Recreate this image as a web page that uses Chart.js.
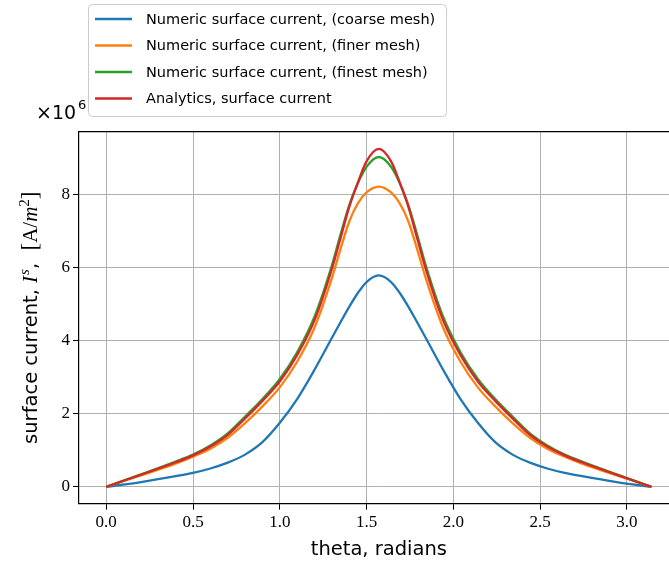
<!DOCTYPE html>
<html>
<head>
<meta charset="utf-8">
<script src="https://cdn.jsdelivr.net/npm/chart.js@4.4.1/dist/chart.umd.min.js"></script>
<style>
  html, body { margin: 0; padding: 0; background: #fff; overflow: hidden; }
  #wrap { width: 669px; height: 568px; overflow: hidden; }
</style>
</head>
<body>
<div id="wrap"><canvas id="chart" width="690" height="568"></canvas></div>
<script>
// theta samples (radians)
const theta = [0, 0.2, 0.4, 0.5, 0.6, 0.7, 0.8, 0.9, 1.0, 1.1, 1.2, 1.3, 1.35, 1.4, 1.45, 1.5, 1.5708,
  1.6416, 1.6916, 1.7416, 1.7916, 1.8416, 1.9416, 2.0416, 2.1416, 2.2416, 2.3416, 2.4416, 2.5416, 2.6416, 2.7416, 2.9416, 3.1416];

// surface current, units of 1e6 A/m^2
const coarse = [0, 0.13, 0.29, 0.38, 0.50, 0.66, 0.88, 1.22, 1.75, 2.40, 3.20, 4.07, 4.50, 4.92, 5.30, 5.60, 5.78,
  5.60, 5.30, 4.92, 4.50, 4.07, 3.20, 2.40, 1.75, 1.22, 0.88, 0.66, 0.50, 0.38, 0.29, 0.13, 0];
const finer = [0, 0.31, 0.63, 0.82, 1.04, 1.34, 1.74, 2.20, 2.72, 3.42, 4.35, 5.70, 6.50, 7.25, 7.75, 8.05, 8.21,
  8.05, 7.75, 7.25, 6.50, 5.70, 4.35, 3.42, 2.72, 2.20, 1.74, 1.34, 1.04, 0.82, 0.63, 0.31, 0];
const finest = [0, 0.34, 0.69, 0.88, 1.13, 1.46, 1.92, 2.40, 2.95, 3.68, 4.65, 6.05, 6.90, 7.70, 8.30, 8.75, 9.02,
  8.75, 8.30, 7.70, 6.90, 6.05, 4.65, 3.68, 2.95, 2.40, 1.92, 1.46, 1.13, 0.88, 0.69, 0.34, 0];
const analytic = [0, 0.33, 0.67, 0.86, 1.10, 1.42, 1.87, 2.35, 2.88, 3.60, 4.55, 5.95, 6.80, 7.65, 8.32, 8.90, 9.24,
  8.90, 8.32, 7.65, 6.80, 5.95, 4.55, 3.60, 2.88, 2.35, 1.87, 1.42, 1.10, 0.86, 0.67, 0.33, 0];

const seriesLabels = [
  "Numeric surface current, (coarse mesh)",
  "Numeric surface current, (finer mesh)",
  "Numeric surface current, (finest mesh)",
  "Analytics, surface current",
];
const seriesColors = ["#1f77b4", "#ff7f0e", "#2ca02c", "#d62728"];
const xTicks = [0, 0.5, 1.0, 1.5, 2.0, 2.5, 3.0];
const yTicks = [0, 2, 4, 6, 8];

const toPoints = (ys) => ys.map((y, i) => ({ x: theta[i], y }));
const allSeries = [coarse, finer, finest, analytic];

const tickFont = { family: "'Liberation Serif', serif", size: 17 };
const SANS = "'DejaVu Sans', sans-serif";
const SERIF = "'Liberation Serif', serif";

// frame, legend, axis titles, offset text
const decorations = {
  id: "decorations",
  afterDraw(chart) {
    const { ctx, chartArea: a } = chart;
    ctx.save();
    // top / right spines
    ctx.strokeStyle = "#000";
    ctx.lineWidth = 1.2;
    ctx.beginPath();
    ctx.moveTo(a.left, a.top);
    ctx.lineTo(a.right, a.top);
    ctx.moveTo(a.right, a.top);
    ctx.lineTo(a.right, a.bottom);
    ctx.stroke();

    // x title
    ctx.fillStyle = "#000";
    ctx.font = "19.5px " + SANS;
    ctx.textAlign = "center";
    ctx.textBaseline = "middle";
    ctx.fillText("theta, radians", (a.left + a.right) / 2, 550);

    // y title (mixed text + math)
    const parts = [
      { t: "surface current, ", f: "19.5px " + SANS, dy: 0 },
      { t: "I", f: "italic 21px " + SERIF, dy: 0 },
      { t: " ", f: "4px " + SERIF, dy: 0 },
      { t: "s", f: "italic 15px " + SERIF, dy: -8 },
      { t: ",  ", f: "19.5px " + SANS, dy: 0 },
      { t: "[", f: "23px " + SERIF, dy: 0 },
      { t: "A", f: "21px " + SERIF, dy: 0 },
      { t: "/", f: "21px " + SERIF, dy: 0 },
      { t: "m", f: "italic 21px " + SERIF, dy: 0 },
      { t: "2", f: "15px " + SERIF, dy: -8 },
      { t: "]", f: "23px " + SERIF, dy: 0 },
    ];
    let total = 0;
    parts.forEach((p) => { ctx.font = p.f; p.w = ctx.measureText(p.t).width; total += p.w; });
    ctx.translate(30, (a.top + a.bottom) / 2);
    ctx.rotate(-Math.PI / 2);
    ctx.textAlign = "left";
    ctx.textBaseline = "alphabetic";
    let px = -total / 2;
    parts.forEach((p) => { ctx.font = p.f; ctx.fillText(p.t, px, 7 + p.dy); px += p.w; });
    ctx.setTransform(1, 0, 0, 1, 0, 0);

    // offset text
    ctx.font = "19px " + SANS;
    ctx.textAlign = "left";
    ctx.fillText("\u00d710", 36, 119);
    ctx.font = "13px " + SANS;
    ctx.fillText("6", 78, 109);

    // legend box
    const bx = 88, by = 4, bw = 358, bh = 112, r = 4;
    ctx.fillStyle = "rgba(255,255,255,0.85)";
    ctx.strokeStyle = "#cccccc";
    ctx.lineWidth = 1;
    ctx.beginPath();
    ctx.roundRect(bx + 0.5, by + 0.5, bw, bh, r);
    ctx.fill();
    ctx.stroke();
    ctx.font = "14.5px " + SANS;
    ctx.textBaseline = "middle";
    seriesLabels.forEach((lab, i) => {
      const y = 19 + i * 26.5;
      ctx.strokeStyle = seriesColors[i];
      ctx.lineWidth = 2.5;
      ctx.beginPath();
      ctx.moveTo(95, y);
      ctx.lineTo(132, y);
      ctx.stroke();
      ctx.fillStyle = "#000";
      ctx.fillText(lab, 146, y + 1);
    });
    ctx.restore();
  },
};

new Chart(document.getElementById("chart"), {
  type: "line",
  data: {
    datasets: allSeries.map((ys, i) => ({
      label: seriesLabels[i],
      data: toPoints(ys),
      borderColor: seriesColors[i],
      backgroundColor: seriesColors[i],
      borderWidth: 2.3,
      pointRadius: 0,
      cubicInterpolationMode: "monotone",
      order: 3 - i,
    })),
  },
  options: {
    responsive: false,
    animation: false,
    devicePixelRatio: 1,
    layout: { padding: { left: 0, top: 131.7, right: 11.3, bottom: 0 } },
    plugins: { legend: { display: false }, tooltip: { enabled: false } },
    scales: {
      x: {
        type: "linear",
        min: -0.157,
        max: 3.299,
        afterBuildTicks(scale) { scale.ticks = xTicks.map((v) => ({ value: v })); },
        afterFit(scale) { scale.height = 64.3; },
        grid: { color: "#b0b0b0", lineWidth: 1, tickColor: "#000", tickLength: 6 },
        border: { display: true, color: "#000", width: 1.2 },
        ticks: { color: "#000", font: tickFont, padding: 3, maxRotation: 0, callback: (v) => v.toFixed(1) },
      },
      y: {
        type: "linear",
        min: -0.4625,
        max: 9.7125,
        afterBuildTicks(scale) { scale.ticks = yTicks.map((v) => ({ value: v })); },
        afterFit(scale) { scale.width = 79; },
        grid: { color: "#b0b0b0", lineWidth: 1, tickColor: "#000", tickLength: 6 },
        border: { display: true, color: "#000", width: 1.2 },
        ticks: { color: "#000", font: tickFont, padding: 3, callback: (v) => String(v) },
      },
    },
  },
  plugins: [decorations],
});
</script>
</body>
</html>
